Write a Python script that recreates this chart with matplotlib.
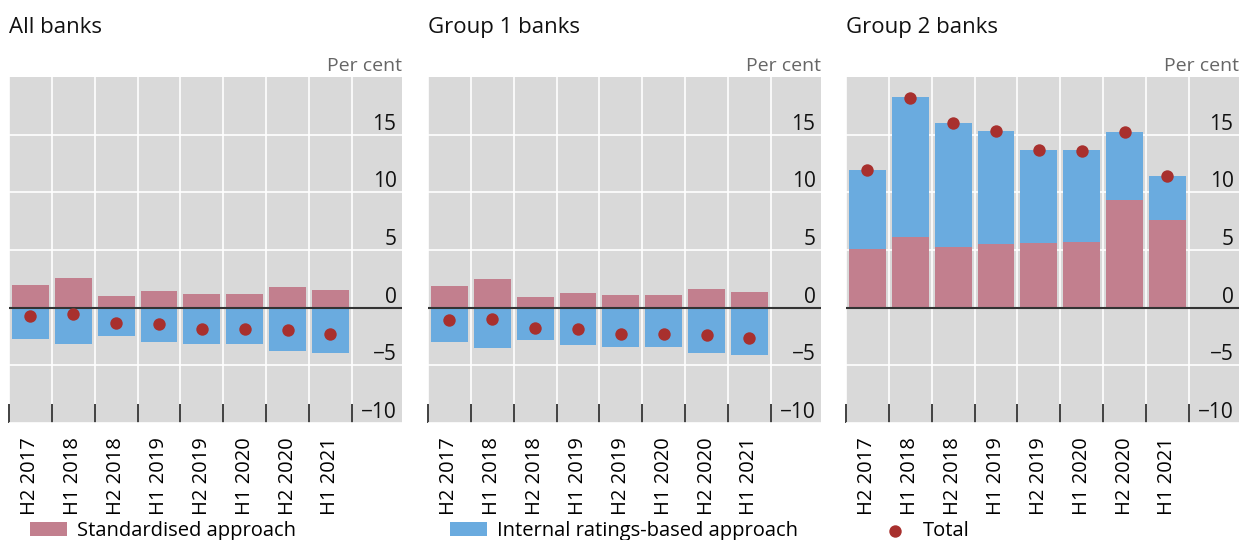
import matplotlib.pyplot as plt
import numpy as np

plt.rcParams['font.family'] = ['Open Sans', 'DejaVu Sans']

periods = ['H2 2017', 'H1 2018', 'H2 2018', 'H1 2019', 'H2 2019', 'H1 2020', 'H2 2020', 'H1 2021']
titles = ['All banks', 'Group 1 banks', 'Group 2 banks']

# standardised approach contribution
std_all = [1.96, 2.57, 1.01, 1.44, 1.18, 1.18, 1.79, 1.53]
std_g1 = [1.88, 2.48, 0.92, 1.27, 1.10, 1.10, 1.62, 1.36]
std_g2 = [5.05, 6.09, 5.25, 5.51, 5.60, 5.69, 9.32, 7.59]

# internal ratings-based approach contribution
irb_all = [-2.68, -3.12, -2.42, -2.94, -3.12, -3.12, -3.72, -3.90]
irb_g1 = [-2.94, -3.46, -2.77, -3.20, -3.38, -3.38, -3.90, -4.07]
irb_g2 = [6.87, 12.15, 10.74, 9.79, 8.05, 7.96, 5.89, 3.81]

# total
tot_all = [-0.69, -0.55, -1.36, -1.44, -1.88, -1.88, -1.90, -2.28]
tot_g1 = [-1.04, -1.01, -1.79, -1.85, -2.25, -2.25, -2.34, -2.60]
tot_g2 = [11.95, 18.18, 16.02, 15.30, 13.68, 13.62, 15.21, 11.40]

c_std = '#c27f8e'
c_irb = '#6aabdf'
c_tot = '#a8302e'

W, H = 1242, 540
fig = plt.figure(figsize=(W / 100, H / 100), dpi=100)

lefts = [9, 428, 846]
data = [(std_all, irb_all, tot_all), (std_g1, irb_g1, tot_g1), (std_g2, irb_g2, tot_g2)]
x = np.arange(len(periods))

for i in range(3):
    ax = fig.add_axes([lefts[i] / W, 1 - 423 / H, 393 / W, 346 / H])
    std, irb, tot = data[i]
    ax.set_facecolor('#d9d9d9')
    for s in ax.spines.values():
        s.set_visible(False)

    b1 = ax.bar(x, std, width=0.86, color=c_std, zorder=2)
    # IRB stacks on top of positive std, hangs from zero when negative
    base = [s if v > 0 else 0 for s, v in zip(std, irb)]
    b2 = ax.bar(x, irb, width=0.86, bottom=base, color=c_irb, zorder=2)
    sc = ax.scatter(x, tot, s=80, color=c_tot, zorder=4, linewidths=0)
    ax.axhline(0, color='#333333', lw=1.5, zorder=3)

    ax.set_xlim(-0.5, 8.67)
    ax.set_ylim(-10, 20)

    ax.set_yticks([-10, -5, 0, 5, 10, 15])
    ax.set_yticklabels(['\u221210', '\u22125', '0', '5', '10', '15'])
    ax.yaxis.tick_right()
    ax.tick_params(axis='y', length=0, pad=-4, labelsize=15, labelcolor='#111111')
    for lbl in ax.get_yticklabels():
        lbl.set_horizontalalignment('right')
        lbl.set_verticalalignment('bottom')
    ax.grid(axis='y', color='white', lw=1.2, zorder=1)

    ax.set_xticks(x)
    ax.set_xticklabels(periods, rotation=90, fontsize=14.5)
    ax.tick_params(axis='x', which='major', length=0, pad=10)
    ax.set_xticks(np.arange(-0.5, 8, 1), minor=True)
    ax.tick_params(axis='x', which='minor', direction='in', length=14, width=1.3, color='#333333')
    ax.xaxis.grid(True, which='minor', color='white', lw=1.2, zorder=1)
    ax.set_axisbelow(True)

    fig.text(lefts[i] / W, 1 - 33 / H, titles[i], fontsize=16, color='#111111', va='baseline')
    fig.text((lefts[i] + 393) / W, 1 - 71 / H, 'Per cent', fontsize=14, color='#666666',
             ha='right', va='baseline')

    if i == 0:
        handles = [b1, b2, sc]

labels = ['Standardised approach', 'Internal ratings-based approach', 'Total']
leg_x = [30, 450, 876]
for h, l, lx in zip(handles, labels, leg_x):
    fig.legend([h], [l], loc='center left', bbox_to_anchor=(lx / W, 1 - 531 / H),
               frameon=False, fontsize=14.5, borderpad=0, borderaxespad=0,
               handlelength=1.85, handleheight=0.7, handletextpad=0.5)

fig.savefig('out.png', dpi=100)
